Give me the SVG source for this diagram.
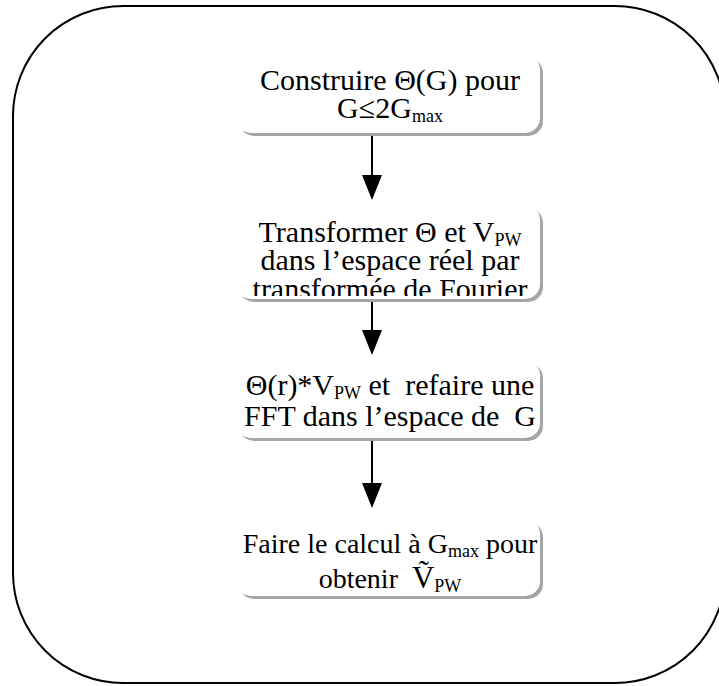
<svg xmlns="http://www.w3.org/2000/svg" width="719" height="686" viewBox="0 0 719 686">
  <style>
    .frame { fill: #ffffff; stroke: #000000; stroke-width: 2; }
    .shadow { fill: #a6a6a6; }
    .box { fill: #ffffff; }
    .label { font-family: "Liberation Serif", "Times New Roman", serif; font-size: 30px; fill: #000000; text-anchor: middle; white-space: pre; }
    .small { font-size: 28px; }
    .sub { font-size: 18px; }
    .shaft { stroke: #000000; stroke-width: 2; }
    .head { fill: #000000; }
  </style>
  <defs>
    <clipPath id="clip2">
      <rect x="236" y="205" width="304" height="91"/>
    </clipPath>
  </defs>

  <rect width="719" height="686" fill="#ffffff"/>

  <!-- outer rounded frame, running past the right edge -->
  <rect class="frame" x="13" y="6" width="712" height="677" rx="110" ry="110"/>

  <!-- connectors -->
  <g id="connectors">
    <line class="shaft" x1="372" y1="136" x2="372" y2="176"/>
    <path class="head" d="M362,175 L382,175 L372,200 Z"/>
    <line class="shaft" x1="372" y1="290" x2="372" y2="331"/>
    <path class="head" d="M362,330 L382,330 L372,355 Z"/>
    <line class="shaft" x1="372" y1="441" x2="372" y2="484"/>
    <path class="head" d="M362,483 L382,483 L372,508 Z"/>
  </g>

  <!-- step 1 -->
  <g id="step1">
    <rect class="shadow" x="239" y="58" width="304" height="78" rx="15"/>
    <rect class="box" x="236" y="55" width="304" height="78" rx="15"/>
    <text class="label" x="390" y="90">Construire Θ(G) pour</text>
    <text class="label" x="390" y="118">G≤2G<tspan class="sub" dy="4">max</tspan></text>
  </g>

  <!-- step 2 -->
  <g id="step2">
    <rect class="shadow" x="239" y="208" width="304" height="94" rx="15"/>
    <rect class="box" x="236" y="205" width="304" height="94" rx="15"/>
    <g clip-path="url(#clip2)">
      <text class="label" x="390" y="242">Transformer Θ et V<tspan class="sub" dy="4">PW</tspan></text>
      <text class="label" x="390" y="270">dans l’espace réel par</text>
      <text class="label" x="390" y="299">transformée de Fourier</text>
    </g>
  </g>

  <!-- step 3 -->
  <g id="step3">
    <rect class="shadow" x="239" y="363" width="304" height="78" rx="15"/>
    <rect class="box" x="236" y="360" width="304" height="78" rx="15"/>
    <text class="label" x="390" y="395">Θ(r)*V<tspan class="sub" dy="4">PW</tspan><tspan dy="-4"> et  refaire une</tspan></text>
    <text class="label" x="390" y="426">FFT dans l’espace de  G</text>
  </g>

  <!-- step 4 -->
  <g id="step4">
    <rect class="shadow" x="239" y="522" width="304" height="77" rx="15"/>
    <rect class="box" x="236" y="519" width="304" height="77" rx="15"/>
    <text class="label small" x="390" y="553">Faire le calcul à G<tspan class="sub" dy="4">max</tspan><tspan dy="-4"> pour</tspan></text>
    <text class="label small" x="390" y="588">obtenir  <tspan font-size="31">Ṽ</tspan><tspan class="sub" dy="4">PW</tspan></text>
  </g>
</svg>
